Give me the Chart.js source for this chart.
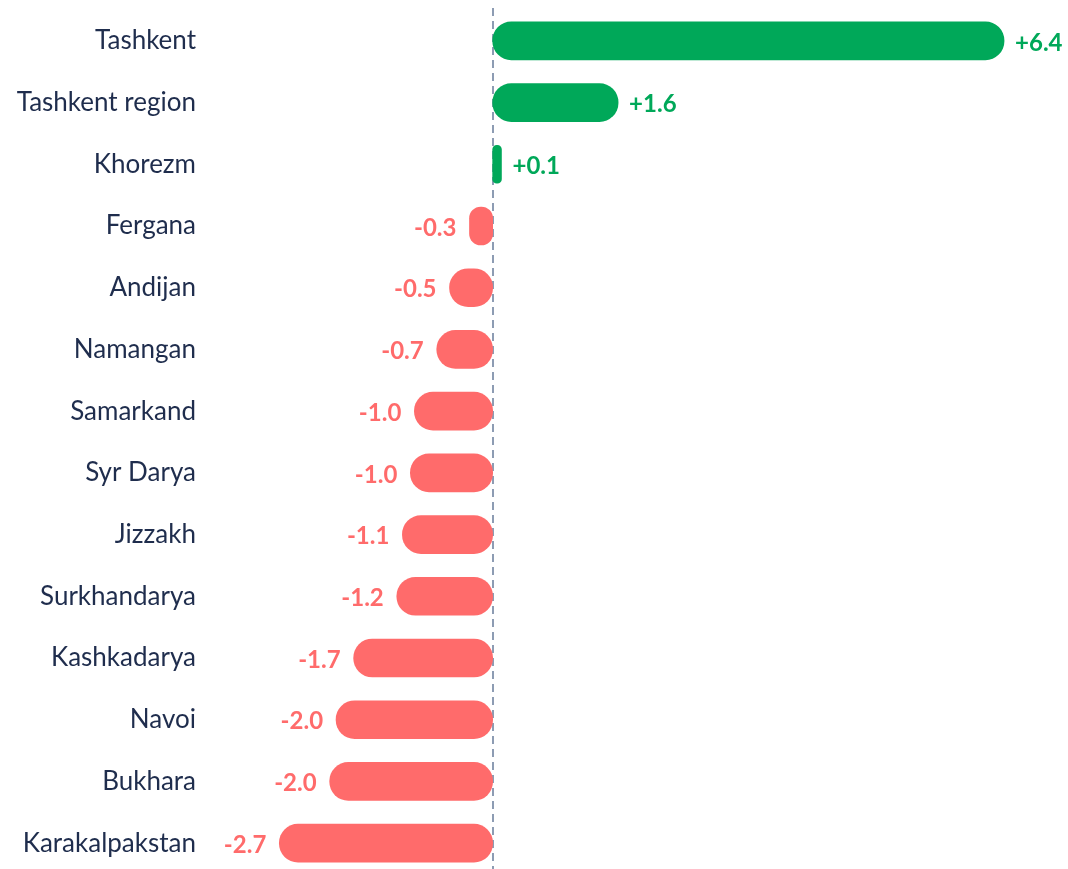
<!DOCTYPE html>
<html>
<head>
<meta charset="utf-8">
<script src="https://cdn.jsdelivr.net/npm/chart.js@4/dist/chart.umd.min.js"></script>
<style>
  html, body { margin: 0; padding: 0; background: #fff; overflow: hidden; }
  #wrap { width: 1068px; height: 875px; position: relative; }
</style>
</head>
<body>
<div id="wrap"><canvas id="regionChart"></canvas></div>
<script>
// regions, top to bottom
const regions = ["Tashkent", "Tashkent region", "Khorezm", "Fergana", "Andijan", "Namangan",
    "Samarkand", "Syr Darya", "Jizzakh", "Surkhandarya", "Kashkadarya", "Navoi", "Bukhara", "Karakalpakstan"];
// change
const changes = [6.4, 1.57, 0.11, -0.29, -0.54, -0.7, -0.98, -1.03, -1.13, -1.2, -1.74, -1.96, -2.04, -2.67];
// text shown next to each bar
const changeLabels = ["+6.4", "+1.6", "+0.1", "-0.3", "-0.5", "-0.7", "-1.0", "-1.0", "-1.1", "-1.2", "-1.7", "-2.0", "-2.0", "-2.7"];

const green = "#00a859";
const red = "#ff6b6b";

// dashed zero line, drawn behind the bars
const zeroLine = {
    id: "zeroLine",
    beforeDatasetsDraw(chart) {
        const ctx = chart.ctx;
        const x = Math.round(chart.scales.x.getPixelForValue(0));
        ctx.save();
        ctx.strokeStyle = "#8d9cb3";
        ctx.lineWidth = 2;
        ctx.setLineDash([8, 5]);
        ctx.beginPath();
        ctx.moveTo(x, 8);
        ctx.lineTo(x, chart.height);
        ctx.stroke();
        ctx.restore();
    }
};

// draws the value text beside every bar
const valueLabels = {
    id: "valueLabels",
    afterDatasetsDraw(chart) {
        const ctx = chart.ctx;
        const meta = chart.getDatasetMeta(0);
        ctx.save();
        ctx.font = "bold 24px Lato";
        ctx.textBaseline = "middle";
        meta.data.forEach((bar, i) => {
            const v = changes[i];
            ctx.fillStyle = v >= 0 ? green : red;
            if (v >= 0) {
                ctx.textAlign = "left";
                ctx.fillText(changeLabels[i], bar.x + 11, bar.y + 2);
            } else {
                ctx.textAlign = "right";
                ctx.fillText(changeLabels[i], bar.x - 13, bar.y + 2);
            }
        });
        ctx.restore();
    }
};

const ctx = document.getElementById("regionChart");
new Chart(ctx, {
    type: "bar",
    data: {
        labels: regions,
        datasets: [{
            data: changes,
            backgroundColor: changes.map(v => v >= 0 ? green : red),
            barThickness: 38,
            borderRadius: 19,
            borderSkipped: false
        }]
    },
    options: {
        indexAxis: "y",
        responsive: true,
        maintainAspectRatio: false,
        animation: false,
        layout: { padding: { top: 10, bottom: 1, left: 0, right: 0 } },
        plugins: {
            legend: { display: false },
            tooltip: { enabled: false }
        },
        scales: {
            x: {
                display: false,
                min: -3.6,
                max: 7.2
            },
            y: {
                afterFit: s => {
                    s.width = 205;
                    s.paddingTop = 0;
                    s.paddingBottom = 0;
                },
                ticks: {
                    color: "#1f2d4d",
                    font: { family: "Lato", size: 26 },
                    padding: 9
                },
                grid: { display: false, drawTicks: false },
                border: { display: false }
            }
        }
    },
    plugins: [zeroLine, valueLabels]
});
</script>
</body>
</html>
